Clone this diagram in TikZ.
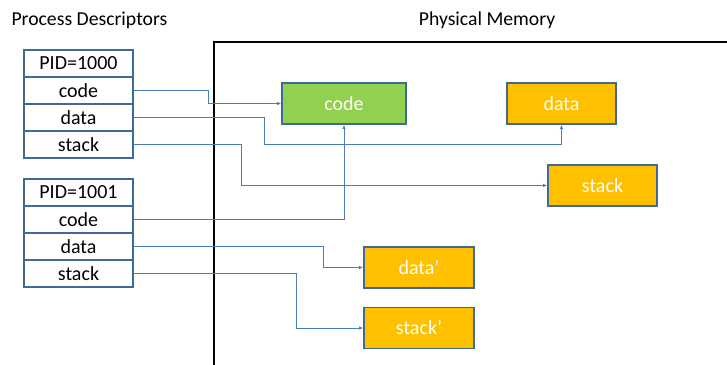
\documentclass[tikz,border=0pt]{standalone}
\usepackage{fontspec}
\setmainfont{Carlito}
\usetikzlibrary{arrows.meta}
\definecolor{cellborder}{HTML}{3F6A97}
\definecolor{conncol}{HTML}{4A7EBB}
\definecolor{grn}{HTML}{92D050}
\definecolor{org}{HTML}{FFC000}
\tikzset{
  cell/.style={draw=cellborder, line width=1.6pt, fill=white, minimum width=109pt, minimum height=27pt, inner sep=0pt, font=\fontsize{20}{22}\selectfont},
  membox/.style={draw=cellborder, line width=1.8pt, minimum height=41pt, inner sep=0pt, text=white, font=\fontsize{20}{22}\selectfont},
  conn/.style={draw=conncol, line width=0.9pt, -{Latex[length=4pt,width=3.5pt]}},
  title/.style={font=\fontsize{19.7}{22}\selectfont, anchor=base}
}
\begin{document}
\begin{tikzpicture}[x=1pt,y=-1pt]
\useasboundingbox[fill=white] (0,0) rectangle (727,364);
\node[title, anchor=base west] (t1) at (8,25) {Process Descriptors};
\node[title] (t2) at (487,25) {Physical Memory};
\draw[line width=2.2pt, black] (214,365) -- (214,42) -- (728,42);
% descriptor tables
\node[cell] (p0pid) at (78.5,63.5) {PID=1000};
\node[cell] (p0code) at (78.5,90.5) {code};
\node[cell] (p0data) at (78.5,117.5) {data};
\node[cell] (p0stack) at (78.5,144.5) {stack};
\node[cell] (p1pid) at (78.5,192.5) {PID=1001};
\node[cell] (p1code) at (78.5,219.5) {code};
\node[cell] (p1data) at (78.5,246.5) {data};
\node[cell] (p1stack) at (78.5,273.5) {stack};
% memory boxes
\node[membox, fill=grn, minimum width=124pt] (mcode) at (344,103.5) {code};
\node[membox, fill=org, minimum width=109pt] (mdata) at (561.5,103.5) {data};
\node[membox, fill=org, minimum width=109pt] (mstack) at (602.5,185.5) {stack};
\node[membox, fill=org, minimum width=110pt] (mdatap) at (419,267.5) {data’};
\node[membox, fill=org, minimum width=110pt] (mstackp) at (419,328) {stack’};
% connectors
\draw[conn] (p0code.east) -- ++(75,0) |- (mcode.west);
\draw[conn] (p0data.east) -- ++(131,0) -- ++(0,27) -| (mdata.south);
\draw[conn] (p0stack.east) -- ++(108,0) |- (mstack.west);
\draw[conn] (p1code.east) -| (mcode.south);
\draw[conn] (p1data.east) -- ++(190,0) |- (mdatap.west);
\draw[conn] (p1stack.east) -- ++(163,0) |- (mstackp.west);
\end{tikzpicture}
\end{document}
